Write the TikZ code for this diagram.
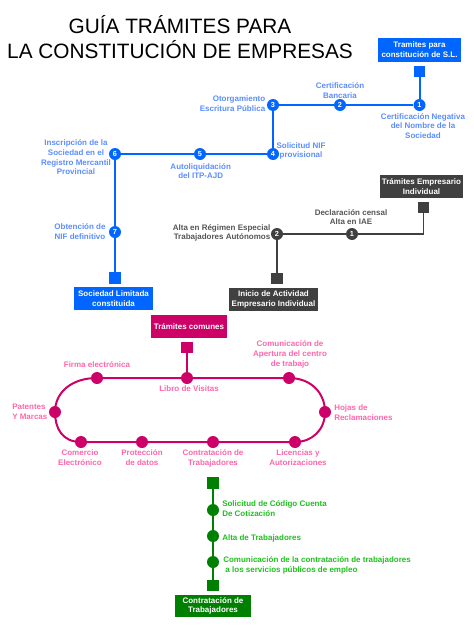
\documentclass[tikz,border=0pt]{standalone}
\usepackage{fontspec}
\setmainfont{Liberation Sans}
\usetikzlibrary{backgrounds}
\definecolor{blueC}{HTML}{0066FF}
\definecolor{blueT}{HTML}{5B8DFF}
\definecolor{grayC}{HTML}{404040}
\definecolor{grayT}{HTML}{555555}
\definecolor{magC}{HTML}{CC0066}
\definecolor{magT}{HTML}{FF66AA}
\definecolor{greenC}{HTML}{008000}
\definecolor{greenT}{HTML}{1FBF1F}
\tikzset{
  lbl/.style={font=\bfseries\fontsize{6}{7.3}\selectfont, align=center, inner sep=0},
  sqr/.style={rectangle, minimum size=8.4pt, inner sep=0, fill=#1},
  dot/.style={circle, minimum size=9pt, inner sep=0, fill=#1, text=white, font=\bfseries\fontsize{5.5}{6}\selectfont},
  tbox/.style={rectangle, inner sep=0, fill=#1, text=white, align=center, font=\bfseries\fontsize{6}{7.3}\selectfont},
  lineS/.style={draw=#1, line width=1.5pt},
}
\begin{document}
\begin{tikzpicture}[x=0.75pt,y=-0.75pt]
\useasboundingbox (0,0) rectangle (474,628);
% title
\node[align=center, font=\fontsize{15.6}{18.75}\selectfont, inner sep=0] (title) at (180,37.5) {GUÍA TRÁMITES PARA\\LA CONSTITUCIÓN DE EMPRESAS};

% ===== blue =====
\node[tbox=blueC, minimum width=62.25pt, minimum height=18pt] (bS) at (419.5,50) {Tramites para\\constitución de S.L.};
\node[sqr=blueC] (bq1) at (419.5,71.5) {};
\node[dot=blueC] (b1) at (419.5,105) {1};
\node[dot=blueC] (b2) at (340,105) {2};
\node[dot=blueC] (b3) at (273,105) {3};
\node[dot=blueC] (b4) at (273,154) {4};
\node[dot=blueC] (b5) at (200,154) {5};
\node[dot=blueC] (b6) at (115,154) {6};
\node[dot=blueC] (b7) at (115,232) {7};
\node[sqr=blueC] (bq2) at (115,278) {};
\node[tbox=blueC, minimum width=59.25pt, minimum height=17.25pt] (bE) at (113.5,298.5) {Sociedad Limitada\\constituida};
\draw[lineS=blueC] (bq1) -- (b1) -- (b2) -- (b3) -- (b4) -- (b5) -- (b6) -- (b7) -- (bq2);
\node[lbl, text=blueT] (lb1) at (423,126) {Certificación Negativa\\del Nombre de la\\Sociedad};
\node[lbl, text=blueT] (lb2) at (340,90.5) {Certificación\\Bancaria};
\node[lbl, text=blueT, anchor=east, align=right] (lb3) at (265.5,104) {Otorgamiento\\Escritura Pública};
\node[lbl, text=blueT] (lb4) at (301,151) {Solicitud NIF\\provisional};
\node[lbl, text=blueT] (lb5) at (200.7,171) {Autoliquidación\\del ITP-AJD};
\node[lbl, text=blueT] (lb6) at (76,157.5) {Inscripción de la\\Sociedad en el\\Registro Mercantil\\Provincial};
\node[lbl, text=blueT] (lb7) at (80,231.5) {Obtención de\\NIF definitivo};

% ===== gray =====
\node[tbox=grayC, minimum width=62.25pt, minimum height=17.25pt] (gS) at (421.5,186.5) {Trámites Empresario\\Individual};
\node[sqr=grayC] (gq1) at (423.5,207.5) {};
\node[dot=grayC] (g1) at (352,234) {1};
\node[dot=grayC] (g2) at (277,234) {2};
\node[sqr=grayC] (gq2) at (277,278.5) {};
\node[tbox=grayC, minimum width=66.75pt, minimum height=17.25pt] (gE) at (273.5,299.5) {Inicio de Actividad\\Empresario Individual};
\draw[lineS=grayC, line width=1.3pt] (gq1) |- (g1) -- (g2) -- (gq2);
\node[lbl, text=grayT] (lg1) at (351,217) {Declaración censal\\Alta en IAE};
\node[lbl, text=grayT, anchor=east, align=right] (lg2) at (270.5,233) {Alta en Régimen Especial\\Trabajadores Autónomos};

% ===== magenta =====
\node[tbox=magC, minimum width=57pt, minimum height=17.25pt] (mS) at (189,326.5) {Trámites comunes};
\node[sqr=magC] (mq) at (187,347.5) {};
\node[dot=magC] (mLib) at (187,378) {};
\node[dot=magC] (mFir) at (97,378) {};
\node[dot=magC] (mCom) at (289,378) {};
\node[dot=magC] (mHoj) at (325,412) {};
\node[dot=magC] (mLic) at (295,442) {};
\node[dot=magC] (mCon) at (213,442) {};
\node[dot=magC] (mPro) at (142,442) {};
\node[dot=magC] (mCoe) at (81,442) {};
\node[dot=magC] (mPat) at (55,412) {};
\draw[lineS=magC] (mq) -- (mLib);
\begin{scope}[on background layer]
\draw[lineS=magC] (mCoe.center) .. controls (62,442) and (55,428) .. (mPat.center)
  .. controls (55,392) and (72,378) .. (mFir.center) -- (mLib.center) -- (mCom.center)
  .. controls (310,378) and (325,392) .. (mHoj.center)
  .. controls (325,430) and (312,442) .. (mLic.center) -- (mCon.center) -- (mPro.center) -- cycle;
\end{scope}
\node[lbl, text=magT] (lm1) at (97,365) {Firma electrónica};
\node[lbl, text=magT] (lm2) at (290,354.5) {Comunicación de\\Apertura del centro\\de trabajo};
\node[lbl, text=magT] (lm3) at (189,389) {Libro de Visitas};
\node[lbl, text=magT, anchor=west, align=left] (lm4) at (12,411.5) {Patentes\\Y Marcas};
\node[lbl, text=magT, anchor=west, align=left] (lm5) at (334,412.5) {Hojas de\\Reclamaciones};
\node[lbl, text=magT] (lm6) at (80,457.5) {Comercio\\Electrónico};
\node[lbl, text=magT] (lm7) at (142,457.5) {Protección\\de datos};
\node[lbl, text=magT] (lm8) at (213,458.5) {Contratación de\\Trabajadores};
\node[lbl, text=magT] (lm9) at (298,457.5) {Licencias y\\Autorizaciones};

% ===== green =====
\node[sqr=greenC] (vq1) at (213,483) {};
\node[dot=greenC] (v1) at (213,510) {};
\node[dot=greenC] (v2) at (213,536) {};
\node[dot=greenC] (v3) at (213,562) {};
\node[sqr=greenC] (vq2) at (213,585.5) {};
\node[tbox=greenC, minimum width=57pt, minimum height=16.5pt] (vE) at (213,606) {Contratación de\\Trabajadores};
\draw[lineS=greenC] (vq1) -- (v1) -- (v2) -- (v3) -- (vq2);
\node[lbl, text=greenT, anchor=west, align=left] (lv1) at (222,508.5) {Solicitud de Código Cuenta\\De Cotización};
\node[lbl, text=greenT, anchor=west, align=left] (lv2) at (222,538) {Alta de Trabajadores};
\node[lbl, text=greenT, anchor=west, align=left] (lv3) at (223,565.5) {Comunicación de la contratación de trabajadores\\\ a los servicios públicos de empleo};
\end{tikzpicture}
\end{document}
